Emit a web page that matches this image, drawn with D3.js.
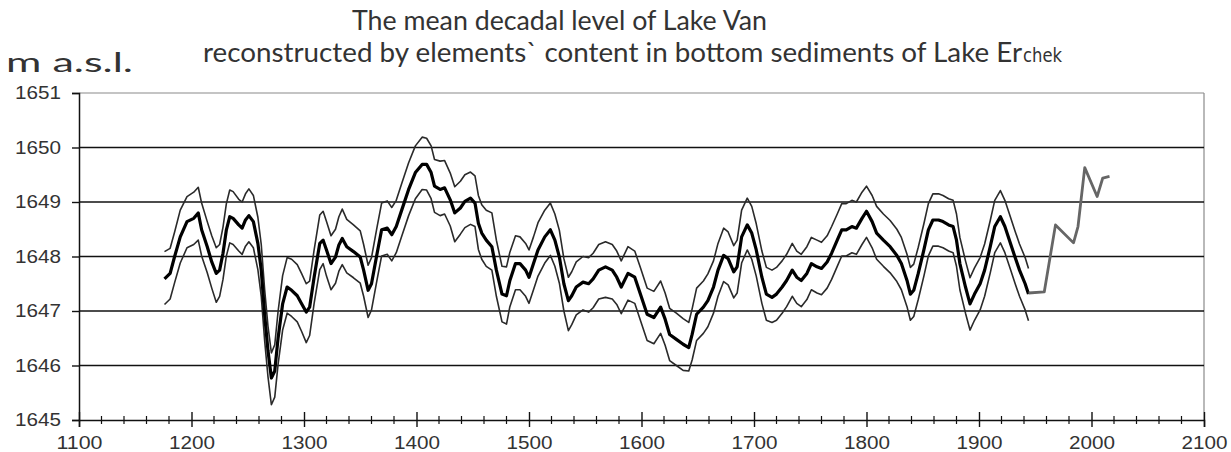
<!DOCTYPE html>
<html>
<head>
<meta charset="utf-8">
<script src="https://cdn.jsdelivr.net/npm/d3@7/dist/d3.min.js"></script>
<style>
  html, body { margin: 0; padding: 0; background: #fff; }
  svg { display: block; }
</style>
</head>
<body>
<svg id="chart" width="1231" height="452"></svg>
<script>
// ---- DATA ----
const xTicks = [1100, 1200, 1300, 1400, 1500, 1600, 1700, 1800, 1900, 2000, 2100];
const yTicks = [1645, 1646, 1647, 1648, 1649, 1650, 1651];

const years = [1176,1181,1185,1190,1196,1202,1206,1209,1214,1218,1222,1225,1228,1231,1234,1237,1242,1245,1248,1251,1255,1259,1262,1265,1268,1271,1274,1277,1281,1285,1289,1294,1298,1302,1305,1309,1314,1317,1320,1324,1328,1331,1334,1338,1344,1350,1353,1357,1360,1365,1369,1374,1378,1382,1387,1393,1399,1405,1409,1413,1416,1421,1425,1430,1434,1439,1443,1448,1452,1455,1458,1462,1467,1471,1476,1480,1483,1488,1492,1497,1500,1504,1508,1514,1519,1523,1527,1531,1535,1538,1542,1548,1553,1557,1562,1568,1574,1578,1582,1588,1594,1599,1605,1611,1617,1621,1625,1631,1637,1642,1645,1649,1655,1659,1664,1668,1673,1677,1682,1685,1689,1694,1698,1702,1707,1711,1716,1720,1725,1729,1734,1738,1742,1747,1751,1756,1760,1765,1769,1774,1778,1782,1787,1791,1796,1800,1805,1809,1815,1821,1827,1831,1836,1839,1842,1846,1851,1855,1859,1864,1868,1873,1877,1880,1883,1888,1892,1896,1901,1905,1910,1914,1919,1923,1928,1932,1936,1941,1944];

const levelMean = [1647.59,1647.69,1648.00,1648.36,1648.64,1648.70,1648.80,1648.49,1648.18,1647.90,1647.69,1647.75,1648.06,1648.49,1648.73,1648.70,1648.58,1648.52,1648.67,1648.75,1648.64,1648.24,1647.75,1646.94,1646.27,1645.77,1645.90,1646.51,1647.13,1647.44,1647.38,1647.28,1647.13,1646.98,1647.07,1647.62,1648.24,1648.30,1648.12,1647.87,1647.99,1648.21,1648.33,1648.18,1648.09,1647.99,1647.75,1647.38,1647.50,1648.06,1648.49,1648.52,1648.40,1648.55,1648.86,1649.23,1649.54,1649.69,1649.69,1649.54,1649.29,1649.23,1649.26,1649.04,1648.80,1648.89,1649.01,1649.07,1648.98,1648.61,1648.43,1648.30,1648.18,1647.75,1647.31,1647.28,1647.56,1647.87,1647.87,1647.75,1647.62,1647.87,1648.12,1648.36,1648.49,1648.30,1647.99,1647.50,1647.19,1647.28,1647.44,1647.53,1647.50,1647.59,1647.75,1647.81,1647.75,1647.62,1647.44,1647.69,1647.62,1647.31,1646.94,1646.88,1647.07,1646.85,1646.57,1646.48,1646.39,1646.33,1646.57,1646.94,1647.07,1647.19,1647.44,1647.75,1648.02,1647.96,1647.72,1647.81,1648.36,1648.58,1648.43,1648.12,1647.62,1647.31,1647.25,1647.31,1647.44,1647.56,1647.75,1647.62,1647.56,1647.69,1647.87,1647.81,1647.78,1647.90,1648.06,1648.30,1648.49,1648.49,1648.55,1648.52,1648.70,1648.83,1648.64,1648.43,1648.30,1648.18,1648.02,1647.87,1647.56,1647.31,1647.38,1647.69,1648.12,1648.49,1648.67,1648.67,1648.64,1648.58,1648.55,1648.30,1647.87,1647.44,1647.13,1647.31,1647.50,1647.75,1648.18,1648.55,1648.73,1648.55,1648.24,1647.99,1647.75,1647.50,1647.31];

const levelUpper = [1648.09,1648.15,1648.45,1648.85,1649.10,1649.18,1649.27,1648.98,1648.64,1648.38,1648.16,1648.22,1648.54,1648.97,1649.22,1649.19,1649.05,1649.00,1649.15,1649.24,1649.12,1648.72,1648.22,1647.40,1646.72,1646.23,1646.38,1647.00,1647.65,1647.98,1647.95,1647.85,1647.68,1647.50,1647.55,1648.12,1648.76,1648.83,1648.64,1648.38,1648.50,1648.73,1648.87,1648.68,1648.58,1648.47,1648.22,1647.84,1647.98,1648.55,1648.98,1649.02,1648.90,1649.03,1649.35,1649.72,1650.03,1650.19,1650.17,1650.03,1649.78,1649.75,1649.76,1649.53,1649.28,1649.38,1649.50,1649.55,1649.48,1649.12,1648.95,1648.85,1648.80,1648.30,1647.82,1647.81,1648.08,1648.38,1648.36,1648.24,1648.12,1648.36,1648.62,1648.85,1648.98,1648.78,1648.48,1647.96,1647.62,1647.72,1647.90,1648.00,1647.98,1648.06,1648.22,1648.27,1648.22,1648.10,1647.92,1648.18,1648.10,1647.80,1647.42,1647.36,1647.55,1647.33,1647.05,1646.96,1646.86,1646.79,1647.04,1647.42,1647.55,1647.68,1647.92,1648.24,1648.52,1648.45,1648.20,1648.30,1648.85,1649.07,1648.92,1648.60,1648.10,1647.80,1647.75,1647.80,1647.92,1648.04,1648.24,1648.10,1648.04,1648.18,1648.35,1648.30,1648.26,1648.38,1648.55,1648.78,1648.97,1648.97,1649.03,1649.00,1649.18,1649.29,1649.12,1648.92,1648.78,1648.66,1648.50,1648.35,1648.04,1647.80,1647.86,1648.17,1648.60,1648.97,1649.15,1649.15,1649.12,1649.06,1649.03,1648.78,1648.35,1647.92,1647.61,1647.79,1647.98,1648.23,1648.66,1649.03,1649.21,1649.03,1648.72,1648.47,1648.23,1647.98,1647.78];

const levelLower = [1647.12,1647.22,1647.52,1647.88,1648.16,1648.22,1648.30,1648.01,1647.70,1647.42,1647.16,1647.27,1647.58,1648.01,1648.25,1648.22,1648.10,1648.04,1648.19,1648.27,1648.16,1647.76,1647.27,1646.46,1645.79,1645.28,1645.42,1646.03,1646.65,1646.96,1646.90,1646.80,1646.62,1646.42,1646.55,1647.14,1647.76,1647.87,1647.64,1647.39,1647.51,1647.73,1647.85,1647.70,1647.61,1647.51,1647.27,1646.88,1647.02,1647.58,1648.01,1648.04,1647.92,1648.07,1648.38,1648.75,1649.06,1649.23,1649.22,1649.06,1648.81,1648.75,1648.78,1648.56,1648.27,1648.41,1648.53,1648.59,1648.55,1648.13,1647.95,1647.82,1647.75,1647.27,1646.80,1646.76,1647.08,1647.39,1647.39,1647.27,1647.14,1647.39,1647.64,1647.88,1648.02,1647.82,1647.51,1647.00,1646.64,1646.75,1646.93,1647.02,1646.98,1647.06,1647.22,1647.25,1647.22,1647.12,1646.95,1647.20,1647.14,1646.83,1646.46,1646.40,1646.59,1646.37,1646.09,1646.00,1645.91,1645.90,1646.10,1646.46,1646.59,1646.71,1646.96,1647.27,1647.54,1647.48,1647.24,1647.33,1647.88,1648.12,1647.95,1647.64,1647.14,1646.83,1646.79,1646.83,1646.96,1647.08,1647.27,1647.14,1647.08,1647.21,1647.39,1647.33,1647.30,1647.42,1647.58,1647.82,1648.01,1648.01,1648.07,1648.04,1648.22,1648.35,1648.16,1647.95,1647.82,1647.70,1647.54,1647.39,1647.08,1646.83,1646.90,1647.21,1647.64,1648.01,1648.19,1648.19,1648.16,1648.10,1648.07,1647.82,1647.39,1646.96,1646.65,1646.83,1647.02,1647.27,1647.70,1648.07,1648.25,1648.07,1647.76,1647.51,1647.27,1647.02,1646.82];

const obsYears = [1944, 1958, 1968, 1984, 1988, 1994, 2005, 2010, 2016];
const obsLevel = [1647.33, 1647.35, 1648.58, 1648.25, 1648.55, 1649.63, 1649.10, 1649.44, 1649.47];

// ---- LAYOUT ----
const svg = d3.select("#chart");
const L = 79, R = 1204, T = 93, B = 420;
const x = d3.scaleLinear().domain([1100, 2100]).range([L, R]);
const y = d3.scaleLinear().domain([1645, 1651]).range([B, T]);

const titleFont = "Lato, 'Open Sans', sans-serif";
// Titles
svg.append("text").attr("x", 352).attr("y", 30)
  .attr("font-family", titleFont).attr("font-size", 26).attr("fill", "#333")
  .attr("textLength", 415).attr("lengthAdjust", "spacingAndGlyphs")
  .text("The mean decadal level of Lake Van");
svg.append("text").attr("x", 203).attr("y", 62)
  .attr("font-family", titleFont).attr("font-size", 26).attr("fill", "#333")
  .attr("textLength", 819).attr("lengthAdjust", "spacingAndGlyphs")
  .text("reconstructed by elements` content  in bottom sediments of Lake Er");
svg.append("text").attr("x", 1023).attr("y", 62)
  .attr("font-family", "'DejaVu Sans', sans-serif").attr("font-size", 20).attr("fill", "#333")
  .attr("textLength", 39).attr("lengthAdjust", "spacingAndGlyphs")
  .text("chek");
svg.append("text").attr("x", 6).attr("y", 72)
  .attr("font-family", titleFont).attr("font-size", 27).attr("fill", "#333")
  .attr("textLength", 127).attr("lengthAdjust", "spacingAndGlyphs")
  .text("m a.s.l.");

// Frame (top and right, gray)
svg.append("line").attr("x1", L).attr("x2", R).attr("y1", y(1651)).attr("y2", y(1651))
  .attr("stroke", "#8a8a8a").attr("stroke-width", 1.2);
svg.append("line").attr("x1", R).attr("x2", R).attr("y1", T).attr("y2", B)
  .attr("stroke", "#8a8a8a").attr("stroke-width", 1.2);

// Horizontal gridlines
svg.append("g").selectAll("line").data(yTicks.filter(v => v > 1645 && v < 1651)).join("line")
  .attr("x1", L).attr("x2", R).attr("y1", d => y(d)).attr("y2", d => y(d))
  .attr("stroke", "#111").attr("stroke-width", 1.4);

// Y axis
const yAxis = d3.axisLeft(y).tickValues(yTicks).tickSize(7).tickPadding(11).tickFormat(d3.format("d"));
const gy = svg.append("g").attr("transform", `translate(${L},0)`).call(yAxis);
gy.select(".domain").attr("stroke", "#111").attr("stroke-width", 1.5);
gy.selectAll(".tick line").attr("stroke", "#111").attr("stroke-width", 1.4);
gy.selectAll(".tick text").attr("font-family", "'Liberation Sans', Arial, sans-serif")
  .attr("font-size", 18).attr("fill", "#333").attr("textLength", 46).attr("lengthAdjust", "spacingAndGlyphs");

// X axis minor ticks
const minor = d3.range(1100, 2101, 20).filter(v => v % 100 !== 0);
svg.append("g").selectAll("line").data(minor).join("line")
  .attr("x1", d => x(d)).attr("x2", d => x(d)).attr("y1", B - 4).attr("y2", B + 4)
  .attr("stroke", "#111").attr("stroke-width", 1.2);

// X axis
const xAxis = d3.axisBottom(x).tickValues(xTicks).tickSize(7).tickPadding(9).tickFormat(d3.format("d"));
const gx = svg.append("g").attr("transform", `translate(0,${B})`).call(xAxis);
gx.select(".domain").attr("stroke", "#111").attr("stroke-width", 1.5);
gx.selectAll(".tick line").attr("stroke", "#111").attr("stroke-width", 1.4).attr("y1", -8);
gx.selectAll(".tick text").attr("font-family", "'Liberation Sans', Arial, sans-serif")
  .attr("font-size", 18).attr("fill", "#333").attr("textLength", 46).attr("lengthAdjust", "spacingAndGlyphs");

// Lines
const mk = (vals) => d3.line().x((d, i) => x(years[i])).y(d => y(d))(vals);
svg.append("path").attr("d", mk(levelUpper)).attr("fill", "none")
  .attr("stroke", "#2a2a2a").attr("stroke-width", 1.6).attr("stroke-linejoin", "round");
svg.append("path").attr("d", mk(levelLower)).attr("fill", "none")
  .attr("stroke", "#2a2a2a").attr("stroke-width", 1.6).attr("stroke-linejoin", "round");
svg.append("path").attr("d", mk(levelMean)).attr("fill", "none")
  .attr("stroke", "#000").attr("stroke-width", 3.2).attr("stroke-linejoin", "round");

const obsLine = d3.line().x((d, i) => x(obsYears[i])).y(d => y(d));
svg.append("path").attr("d", obsLine(obsLevel)).attr("fill", "none")
  .attr("stroke", "#666").attr("stroke-width", 2.8).attr("stroke-linejoin", "round");
</script>
</body>
</html>
